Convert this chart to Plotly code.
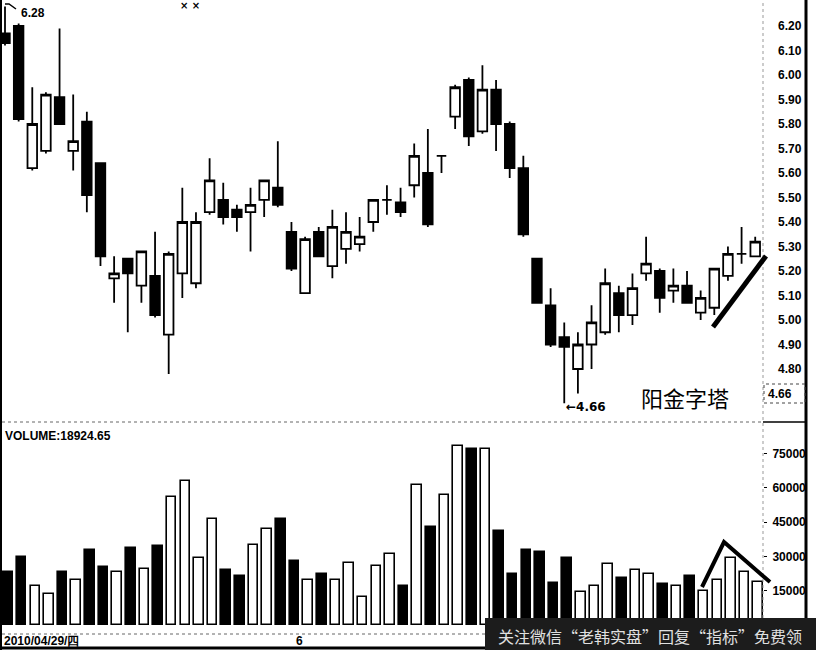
import plotly.graph_objects as go

# ---- data ----
days = list(range(56))
opens = [6.17, 6.20, 5.62, 5.69, 5.91, 5.69, 5.81, 5.64, 5.17, 5.25,
         5.14, 5.18, 4.94, 5.19, 5.15, 5.44, 5.49, 5.45, 5.44, 5.49,
         5.54, 5.36, 5.11, 5.36, 5.22, 5.29, 5.31, 5.40, 5.49, 5.48,
         5.55, 5.60, 5.67, 5.83, 5.98, 5.77, 5.94, 5.80, 5.62, 5.25,
         5.06, 4.93, 4.80, 4.90, 4.95, 5.11, 5.02, 5.19, 5.20, 5.12,
         5.14, 5.03, 5.05, 5.18, 5.27, 5.26]
highs = [6.28, 6.21, 5.95, 5.93, 6.19, 5.92, 5.85, 5.64, 5.26, 5.25,
         5.28, 5.36, 5.28, 5.54, 5.44, 5.66, 5.56, 5.47, 5.54, 5.57,
         5.73, 5.40, 5.34, 5.38, 5.45, 5.44, 5.42, 5.49, 5.55, 5.54,
         5.72, 5.78, 5.67, 5.96, 5.99, 6.04, 5.98, 5.81, 5.67, 5.25,
         5.13, 4.99, 4.95, 5.06, 5.21, 5.14, 5.19, 5.34, 5.21, 5.21,
         5.20, 5.12, 5.21, 5.30, 5.38, 5.34]
lows = [6.12, 5.81, 5.61, 5.68, 5.80, 5.61, 5.44, 5.22, 5.07, 4.95,
        5.07, 5.01, 4.78, 5.09, 5.13, 5.43, 5.39, 5.36, 5.28, 5.42,
        5.46, 5.20, 5.11, 5.26, 5.17, 5.23, 5.28, 5.36, 5.43, 5.42,
        5.50, 5.38, 5.60, 5.78, 5.71, 5.76, 5.69, 5.58, 5.34, 5.07,
        4.89, 4.66, 4.70, 4.80, 4.94, 4.95, 4.98, 5.16, 5.03, 5.07,
        5.07, 5.00, 5.02, 5.16, 5.23, 5.26]
closes = [6.13, 5.82, 5.80, 5.92, 5.80, 5.73, 5.51, 5.26, 5.19, 5.19,
          5.28, 5.02, 5.27, 5.40, 5.40, 5.57, 5.42, 5.42, 5.47, 5.57,
          5.47, 5.21, 5.33, 5.26, 5.38, 5.36, 5.34, 5.49, 5.49, 5.44,
          5.67, 5.39, 5.67, 5.95, 5.75, 5.94, 5.80, 5.62, 5.35, 5.07,
          4.90, 4.89, 4.90, 4.99, 5.15, 5.02, 5.13, 5.23, 5.09, 5.14,
          5.07, 5.09, 5.21, 5.27, 5.27, 5.32]
volumes = [23200, 29700, 17100, 13600, 23200, 19700, 32800, 25400, 23200, 33700,
           24500, 34500, 56000, 63000, 29300, 46300, 24000, 21400, 35000, 42000,
           46300, 28000, 19700, 22300, 19700, 27100, 12200, 25800, 31000, 17100,
           61200, 42900, 56800, 78300, 77000, 77000, 41100, 22300, 32800, 31900,
           18400, 29300, 14400, 17100, 26700, 20600, 24000, 22300, 17900, 17100,
           21400, 14900, 19700, 29300, 23200, 18924.65]
price_ticks = [4.80, 4.90, 5.00, 5.10, 5.20, 5.30, 5.40, 5.50, 5.60, 5.70,
               5.80, 5.90, 6.00, 6.10, 6.20]
volume_ticks = [15000, 30000, 45000, 60000, 75000]
first_date_label = "2010/04/29/四"
month_label = "6"
month_start_day = 22
pattern_label = "阳金字塔"
watermark = "关注微信“老韩实盘”回复“指标”免费领"

# ---- figure ----
W, H = 816, 650
L, R, T, B = 2, 53, 0, 20
PW, PH = W - L - R, H - T - B


def px(xp):
    return (xp - L) / PW


def py(yp):
    return (H - B - yp) / PH


vol_fill = ["white" if c >= o else "black" for o, c in zip(opens, closes)]

fig = go.Figure()
fig.add_trace(go.Candlestick(
    x=days, open=opens, high=highs, low=lows, close=closes,
    xaxis="x", yaxis="y", whiskerwidth=0,
    increasing=dict(line=dict(color="black", width=1.8), fillcolor="white"),
    decreasing=dict(line=dict(color="black", width=1.8), fillcolor="black"),
    showlegend=False))
fig.add_trace(go.Bar(
    x=days, y=volumes, xaxis="x2", yaxis="y2", width=0.7,
    marker=dict(color=vol_fill, line=dict(color="black", width=1.6)),
    showlegend=False))

tickfont = dict(family="Liberation Sans, Arial", size=12, color="black", weight="bold")
shapes = [
    dict(type="line", xref="paper", yref="paper", x0=px(1), x1=px(1), y0=py(650), y1=1,
         line=dict(color="black", width=2)),
    dict(type="line", xref="paper", yref="paper", x0=0, x1=1, y0=py(422), y1=py(422),
         line=dict(color="#666", width=1, dash="dot")),
    dict(type="line", xref="paper", yref="paper", x0=1, x1=px(806), y0=py(422), y1=py(422),
         line=dict(color="black", width=1.5)),
    dict(type="line", xref="paper", yref="paper", x0=1, x1=1, y0=0, y1=1,
         line=dict(color="#999", width=1, dash="dot")),
    dict(type="line", xref="paper", yref="paper", x0=px(806), x1=px(806), y0=py(620), y1=1,
         line=dict(color="black", width=3)),
    dict(type="line", xref="paper", yref="paper", x0=0, x1=px(485), y0=py(634), y1=py(634),
         line=dict(color="#666", width=1, dash="dot")),
    dict(type="line", xref="paper", yref="paper", x0=px(0), x1=px(816), y0=py(648), y1=py(648),
         line=dict(color="black", width=3)),
    dict(type="rect", xref="paper", yref="paper", x0=px(485), x1=px(816), y0=py(650), y1=py(618),
         fillcolor="#1c1c1c", line=dict(width=0)),
    dict(type="rect", xref="paper", yref="paper", x0=px(764), x1=px(805), y0=py(403), y1=py(384),
         line=dict(color="#444", width=1, dash="dot")),
    dict(type="line", xref="paper", yref="paper", x0=px(713), x1=px(766), y0=py(327), y1=py(256),
         line=dict(color="black", width=5)),
    dict(type="path", xref="paper", yref="paper",
         path=f"M {px(702)} {py(587)} L {px(724)} {py(542)} L {px(770)} {py(582)}",
         line=dict(color="black", width=4)),
    dict(type="path", xref="paper", yref="paper",
         path=f"M {px(5)} {py(4)} L {px(9)} {py(4)} L {px(16)} {py(9)}",
         line=dict(color="black", width=1.5)),
]

annotations = [
    dict(xref="paper", yref="paper", x=px(19), y=py(13), xanchor="left", yanchor="middle",
         text=f"{max(highs):.2f}", showarrow=False, font=tickfont),
    dict(xref="paper", yref="paper", x=px(190), y=py(6), xanchor="center", yanchor="middle",
         text="× ×", showarrow=False,
         font=dict(family="DejaVu Sans", size=10, color="black", weight="bold")),
    dict(xref="x", yref="y", x=days[lows.index(min(lows))], y=min(lows), xanchor="left",
         yanchor="middle", yshift=-4, text=f"←{min(lows):.2f}", showarrow=False,
         font=dict(family="DejaVu Sans, Liberation Sans", size=12, color="black", weight="bold")),
    dict(xref="paper", yref="paper", x=px(685), y=py(397), xanchor="center", yanchor="middle",
         text=pattern_label, showarrow=False,
         font=dict(family="Noto Sans CJK SC", size=22, color="black")),
    dict(xref="paper", yref="paper", x=px(766), y=py(394), xanchor="left", yanchor="middle",
         text=f"{min(lows):.2f}", showarrow=False, font=tickfont),
    dict(xref="paper", yref="paper", x=px(3), y=py(436), xanchor="left", yanchor="middle",
         text=f"VOLUME:{volumes[-1]:.2f}", showarrow=False, font=tickfont),
    dict(xref="x", yref="paper", x=days[0], y=py(641), xanchor="left", yanchor="middle",
         text=first_date_label, showarrow=False, xshift=-3, font=tickfont),
    dict(xref="x", yref="paper", x=month_start_day, y=py(641), xanchor="right", yanchor="middle",
         text=month_label, showarrow=False, font=tickfont),
    dict(xref="paper", yref="paper", x=px(650), y=py(636), xanchor="center", yanchor="middle",
         text=watermark, showarrow=False,
         font=dict(family="Noto Sans CJK SC", size=16, color="#e0e0e0")),
]

fig.update_layout(
    width=W, height=H, margin=dict(l=L, r=R, t=T, b=B),
    paper_bgcolor="white", plot_bgcolor="white",
    boxgap=0.3, boxgroupgap=0,
    bargap=0,
    xaxis=dict(domain=[0, 1], range=[-0.22, 55.57], visible=False,
               rangeslider=dict(visible=False), anchor="y"),
    yaxis=dict(domain=[py(421), 1], range=[6.20 - 395 / 245, 6.20 + 26 / 245],
               side="right", anchor="x", tickvals=price_ticks,
               ticktext=[f"{v:.2f}" for v in price_ticks],
               showgrid=False, zeroline=False, ticks="", ticklabelstandoff=14,
               tickfont=tickfont, showline=False),
    xaxis2=dict(domain=[0, 1], range=[-0.44, 55.35], visible=False, anchor="y2"),
    yaxis2=dict(domain=[0, py(422)], range=[-2186, 88762], side="right", anchor="x2",
                tickvals=volume_ticks, ticktext=[str(v) for v in volume_ticks],
                showgrid=False, zeroline=False, ticks="outside", ticklen=3,
                tickcolor="black", ticklabelstandoff=3, tickfont=tickfont),
    shapes=shapes, annotations=annotations,
    hovermode=False,
)

fig.write_html(
    "out.html",
    config={"displayModeBar": False},
    post_script="document.body.style.margin='0px';document.body.style.overflow='hidden';",
)
